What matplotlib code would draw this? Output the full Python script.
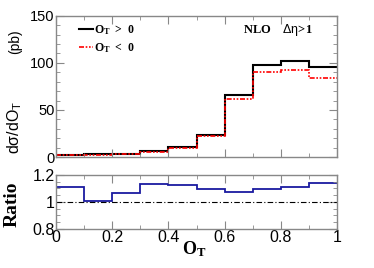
import numpy as np
from matplotlib import pyplot as plt
from matplotlib.ticker import MultipleLocator

plt.rcParams['mathtext.fontset'] = 'custom'
plt.rcParams['mathtext.rm'] = 'Liberation Sans'
plt.rcParams['mathtext.it'] = 'Liberation Sans'
plt.rcParams['mathtext.bf'] = 'Liberation Serif:bold'
plt.rcParams['font.family'] = ['Liberation Sans', 'DejaVu Sans']

# bin edges in O_T
edges = np.linspace(0, 1, 11)
# cross sections (pb)
xs_pos = [2.5, 3.0, 3.5, 6.0, 10.6, 23.8, 66.0, 98.0, 102.0, 96.0]
xs_neg = [2.0, 2.2, 3.0, 5.3, 9.2, 22.0, 62.0, 90.0, 92.0, 84.0]
# ratio O_T>0 / O_T<0
ratio = [1.108, 1.01, 1.069, 1.133, 1.123, 1.098, 1.076, 1.093, 1.108, 1.14]

grey = '#888888'

fig = plt.figure(figsize=(3.74, 2.68), dpi=100)
ax = fig.add_axes([0.150, 0.414, 0.751, 0.527])
ax2 = fig.add_axes([0.150, 0.146, 0.751, 0.201])


def style(a, size):
    for s in a.spines.values():
        s.set_color(grey)
        s.set_linewidth(1.0)
    a.tick_params(which='both', direction='in', top=True, right=True,
                  color=grey, labelsize=size, pad=1)
    a.tick_params(which='major', length=6)
    a.tick_params(which='minor', length=3)


ax.stairs(xs_pos, edges, baseline=None, color='black', lw=1.5,
          label=r'$\mathbf{O_T}$  >  0')
ax.stairs(xs_neg, edges, baseline=None, color='red', lw=1.2,
          linestyle=(0, (3, 1, 1, 1, 1, 1)), label=r'$\mathbf{O_T}$  <  0')
ax.set_xlim(0, 1)
ax.set_ylim(0, 150)
ax.yaxis.set_major_locator(MultipleLocator(50))
ax.yaxis.set_minor_locator(MultipleLocator(10))
ax.xaxis.set_major_locator(MultipleLocator(0.2))
ax.xaxis.set_minor_locator(MultipleLocator(0.1))
ax.set_xticklabels([])
style(ax, 10.5)
ax.text(-0.146, 0.213, r'd$\sigma$/dO$_\mathrm{T}$', transform=ax.transAxes,
        rotation=90, ha='center', va='center', fontsize=11.5)
ax.text(-0.146, 0.82, '(pb)', transform=ax.transAxes,
        rotation=90, ha='center', va='center', fontsize=10)
leg = ax.legend(loc='upper left', bbox_to_anchor=(0.055, 1.0), frameon=False,
                handlelength=1.2, handletextpad=0.1, borderaxespad=0.2,
                labelspacing=0.35,
                prop={'family': 'Liberation Serif', 'weight': 'bold', 'size': 8.5})
ax.text(0.915, 0.90, r'NLO    $\Delta\eta$>1', transform=ax.transAxes, ha='right', va='center',
        fontsize=9, fontweight='bold', family='Liberation Serif')

ax2.stairs(ratio, edges, baseline=None, color='#1a1aa0', lw=1.3)
ax2.axhline(1.0, color='black', lw=0.8, linestyle=(0, (5, 2, 1, 2)))
ax2.set_xlim(0, 1)
ax2.set_ylim(0.8, 1.2)
ax2.yaxis.set_minor_locator(MultipleLocator(0.05))
ax2.xaxis.set_minor_locator(MultipleLocator(0.1))
ax2.set_yticks([0.8, 1.0, 1.2])
ax2.set_yticklabels(['0.8', '1', '1.2'])
ax2.set_xticks([0, 0.2, 0.4, 0.6, 0.8, 1.0])
ax2.set_xticklabels(['0', '0.2', '0.4', '0.6', '0.8', '1'])
style(ax2, 11.5)
ax2.set_ylabel('Ratio', fontsize=14, fontweight='bold', family='Liberation Serif')
ax2.yaxis.set_label_coords(-0.128, 0.45)
ax2.set_xlabel(r'$\mathbf{O_T}$', fontsize=13)
ax2.xaxis.set_label_coords(0.49, -0.2)

fig.savefig('out.png', dpi=100)
